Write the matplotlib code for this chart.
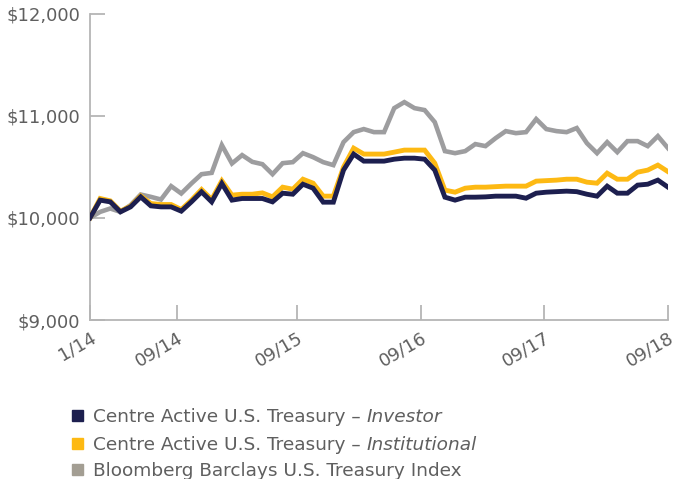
import numpy as np
import matplotlib
matplotlib.use("Agg")
import matplotlib.pyplot as plt
from matplotlib.patches import Rectangle

# growth of $10,000, month-end values (12/13 start .. 09/18)
investor = [10000, 10174, 10157, 10059, 10108, 10206, 10118, 10108, 10108, 10066,
            10157, 10255, 10157, 10337, 10174, 10190, 10190, 10190, 10157, 10242,
            10232, 10330, 10291, 10154, 10154, 10468, 10625, 10556, 10556, 10556,
            10575, 10585, 10585, 10575, 10468, 10203, 10174, 10203, 10203, 10206,
            10213, 10213, 10213, 10193, 10242, 10252, 10257, 10262, 10257, 10232,
            10213, 10311, 10242, 10242, 10321, 10330, 10370, 10301]
institutional = [10000, 10190, 10167, 10066, 10115, 10216, 10141, 10131, 10131, 10082,
                 10174, 10278, 10180, 10363, 10223, 10232, 10232, 10245, 10206, 10301,
                 10281, 10379, 10340, 10213, 10213, 10497, 10683, 10625, 10625, 10625,
                 10644, 10664, 10664, 10664, 10536, 10272, 10252, 10291, 10301, 10301,
                 10306, 10311, 10311, 10311, 10360, 10365, 10370, 10379, 10379, 10350,
                 10340, 10438, 10379, 10379, 10448, 10468, 10517, 10453]
index = [10000, 10059, 10092, 10059, 10125, 10229, 10206, 10180, 10311, 10239,
         10337, 10428, 10441, 10713, 10533, 10615, 10549, 10526, 10428, 10536,
         10546, 10634, 10595, 10546, 10517, 10742, 10840, 10870, 10840, 10840,
         11075, 11134, 11075, 11056, 10938, 10654, 10634, 10654, 10723, 10703,
         10781, 10850, 10830, 10840, 10968, 10870, 10850, 10840, 10880, 10732,
         10634, 10742, 10644, 10752, 10752, 10703, 10801, 10683]

tick_labels = ["1/14", "09/14", "09/15", "09/16", "09/17", "09/18"]
tick_pos = [0, 8.6, 20.4, 32.6, 44.8, 57]
y_ticks = [9000, 10000, 11000, 12000]

navy = "#1d1f4f"
gold = "#fdb913"
grey = "#9d9d9f"
txt = "#5f5f5f"

plt.rcParams['font.family'] = ['DejaVu Sans']

fig = plt.figure(figsize=(6.79, 4.79), dpi=100)
ax = fig.add_axes([90 / 679, 1 - 320 / 479, 578 / 679, (320 - 13.7) / 479])

x = np.arange(len(investor))
ax.plot(x, index, color=grey, lw=3.3, zorder=2, solid_joinstyle='miter')
ax.plot(x, institutional, color=gold, lw=3.5, zorder=3, solid_joinstyle='miter')
ax.plot(x, investor, color=navy, lw=3.5, zorder=4, solid_joinstyle='miter')

ax.set_xlim(0, 57)
ax.set_ylim(9000, 12000)
ax.set_yticks(y_ticks)
ax.set_yticklabels(["${:,}".format(v) for v in y_ticks])
ax.set_xticks(tick_pos)
ax.set_xticklabels(tick_labels, rotation=30, ha='right', rotation_mode='anchor')

for s in ['top', 'right']:
    ax.spines[s].set_visible(False)
for s in ['left', 'bottom']:
    ax.spines[s].set_color('#b5b5b5')
    ax.spines[s].set_linewidth(1.3)

ax.tick_params(axis='both', direction='in', length=11, width=1.3, color='#b5b5b5',
               labelcolor=txt, labelsize=13)
ax.tick_params(axis='y', pad=7)
ax.tick_params(axis='x', pad=6)

# legend
items = [("Centre Active U.S. Treasury \u2013 ", "Investor", navy),
         ("Centre Active U.S. Treasury \u2013 ", "Institutional", gold),
         ("Bloomberg Barclays U.S. Treasury Index", "", "#a39e93")]
row_y = [415, 443, 469]
for (plain, ital, col), yy in zip(items, row_y):
    fy = 1 - yy / 479
    fig.patches.append(Rectangle((72 / 679, fy - 5.5 / 479), 11 / 679, 11 / 479,
                                 transform=fig.transFigure, color=col))
    t = fig.text(93 / 679, fy, plain, color=txt, fontsize=13.3, va='center_baseline')
    if ital:
        ax.annotate(ital, xy=(1, 0), xycoords=t, va='bottom', ha='left',
                    color=txt, fontsize=13.3, style='italic', annotation_clip=False)

fig.savefig("out.png", dpi=100)
